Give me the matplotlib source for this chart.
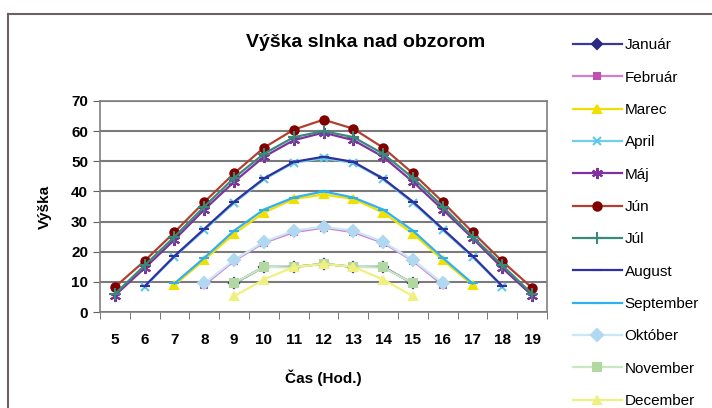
import numpy as np
import matplotlib.pyplot as plt
from matplotlib.lines import Line2D

plt.rcParams['font.family'] = ['Liberation Sans', 'DejaVu Sans']

# hours of the day
hours = list(range(5, 20))
n = None

januar    = [n, n, n, n, 9.5, 15, 15, 16, 15, 15, 9.5, n, n, n, n]
februar   = [n, n, n, 9, 17, 23, 26.5, 28, 26.5, 23, 17, 9, n, n, n]
marec     = [n, n, 9, 17.3, 26, 33, 37.5, 39, 37.5, 33, 26, 17.3, 9, n, n]
april     = [n, 8.4, 18.3, 27.2, 36.2, 44, 49.5, 51, 49.5, 44, 36.2, 27.2, 18.3, 8.4, n]
maj       = [5.5, 14.6, 24, 34, 43.2, 51.5, 57, 59.5, 57, 51.5, 43.2, 34, 24.5, 14.6, 5.5]
jun       = [8.3, 17, 26.5, 36.5, 46, 54.5, 60.5, 63.8, 60.8, 54.5, 46, 36.5, 26.5, 16.8, 8]
jul       = [6, 15.5, 25, 35, 44.5, 52.5, 58, 60, 58, 52.5, 44.5, 35, 25, 15.5, 6]
august    = [n, 8.6, 18.6, 27.6, 36.6, 44.3, 49.8, 51.5, 49.8, 44.3, 36.6, 27.6, 18.6, 8.6, n]
september = [n, n, 9.5, 18, 27, 34, 38, 40, 38, 34, 27, 18, 9.5, n, n]
oktober   = [n, n, n, 9.5, 17.3, 23.3, 27, 28.3, 27, 23.3, 17.3, 9.5, n, n, n]
november  = [n, n, n, n, 9.6, 15, 14.8, 16, 15, 14.8, 9.6, n, n, n, n]
december  = [n, n, n, n, 5.3, 10.8, 15, 16, 15, 10.8, 5.3, n, n, n, n]

months = ['Január', 'Február', 'Marec', 'April', 'Máj', 'Jún',
          'Júl', 'August', 'September', 'Október', 'November', 'December']
series = [januar, februar, marec, april, maj, jun,
          jul, august, september, oktober, november, december]

# line colour, marker colour, marker, size
styles = [
    ('#3a3a9a', '#2a2a80', 'D', 5),
    ('#d080d0', '#c050b0', 's', 5),
    ('#f0e000', '#f0e000', '^', 6),
    ('#70d0e8', '#60c8e8', 'x', 6),
    ('#8030a0', '#8030a0', (6, 2, 0), 8),
    ('#b04030', '#800000', 'o', 6),
    ('#3a8a7a', '#3a8a7a', '+', 8),
    ('#3030a0', '#3030a0', '_', 7),
    ('#30b0f0', '#30b0f0', '_', 7),
    ('#c8e8f8', '#b0d8f0', 'D', 6),
    ('#c8e8c0', '#b0d8a0', 's', 6),
    ('#f0f080', '#f0f080', '^', 6),
]

fig = plt.figure(figsize=(7.12, 4.08), dpi=100)
ax = fig.add_axes([0.1404, 0.235, 0.628, 0.5175])

x = np.arange(len(hours))
for name, vals, (lc, mc, mk, ms) in zip(months, series, styles):
    y = np.array([np.nan if v is None else v for v in vals], dtype=float)
    ax.plot(x, y, color=lc, lw=1.6, marker=mk, markersize=ms,
            markerfacecolor=mc, markeredgecolor=mc, markeredgewidth=1.5,
            label=name)

ax.set_xlim(-0.5, len(hours) - 0.5)
ax.set_ylim(0, 70)
ax.set_yticks(range(0, 71, 10))
ax.set_xticks(x)
ax.set_xticklabels(hours)
ax.set_xticks(np.arange(-0.5, len(hours), 1), minor=True)
ax.tick_params(axis='x', which='major', length=0, labelsize=11, pad=15)
ax.tick_params(axis='x', which='minor', length=5, color='#606060', direction='out')
ax.tick_params(axis='y', length=5, color='#606060', labelsize=11)
for lab in ax.get_xticklabels() + ax.get_yticklabels():
    lab.set_fontweight('bold')
ax.yaxis.grid(True, color='#7a7a7a', lw=1.5)
ax.set_axisbelow(True)
for s in ax.spines.values():
    s.set_color('#808080')
    s.set_linewidth(1.2)

ax.set_ylabel('Výška', fontsize=11, fontweight='bold', labelpad=14)
ax.set_xlabel('Čas (Hod.)', fontsize=11, fontweight='bold', labelpad=16)
fig.text(0.513, 0.895, 'Výška slnka nad obzorom', ha='center', va='center',
         fontsize=14, fontweight='bold')

fig.legend(loc='upper left', bbox_to_anchor=(0.785, 0.94), frameon=False,
           fontsize=11, labelspacing=1.2, handlelength=3.2, handletextpad=0.2)

# chart area border (left and top edge visible)
fx0, fy1 = 8 / 712, 1 - 14 / 408
fig.add_artist(Line2D([fx0, fx0], [0, fy1], color='#6a6060', lw=1.5))
fig.add_artist(Line2D([fx0, 1], [fy1, fy1], color='#6a6060', lw=1.5))

fig.savefig('out.png', dpi=100)
